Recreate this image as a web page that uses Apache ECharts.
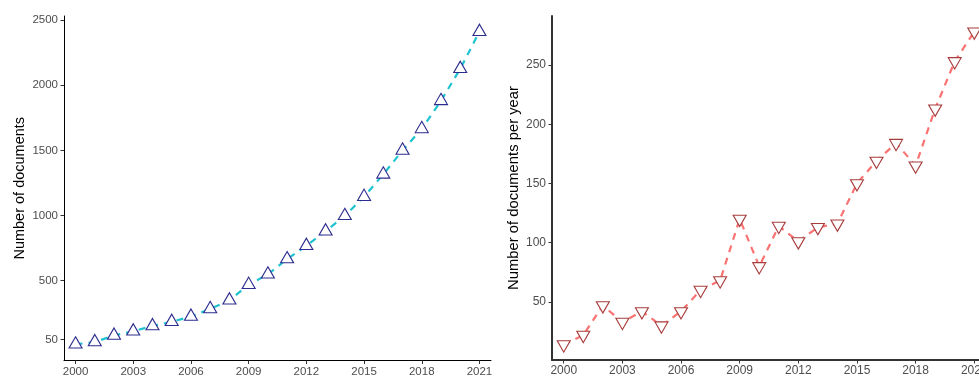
<!DOCTYPE html>
<html>
<head>
<meta charset="utf-8">
<script src="https://cdn.jsdelivr.net/npm/echarts@6/dist/echarts.min.js"></script>
<style>
  html, body { margin: 0; padding: 0; background: #fff; }
  #chart { width: 979px; height: 376px; }
</style>
</head>
<body>
<div id="chart"></div>
<script>
// Publication years
const years = [2000, 2001, 2002, 2003, 2004, 2005, 2006, 2007, 2008, 2009, 2010,
               2011, 2012, 2013, 2014, 2015, 2016, 2017, 2018, 2019, 2020, 2021];
// Cumulative number of documents
const cumulativeDocs = [12, 30, 80, 112, 153, 185, 226, 284, 350, 470, 549,
                        666, 768, 880, 998, 1145, 1316, 1500, 1665, 1880, 2126, 2410];
// Number of documents published each year
const docsPerYear = [14, 22, 47, 33, 42, 30, 42, 60, 68, 120, 80,
                     114, 101, 113, 116, 150, 169, 184, 165, 213, 253, 278];
// Tick labels
const yearTicks = [2000, 2003, 2006, 2009, 2012, 2015, 2018, 2021];
const cumulativeTicks = [50, 500, 1000, 1500, 2000, 2500];
const perYearTicks = [50, 100, 150, 200, 250];

const FONT = "'Liberation Sans', Arial, sans-serif";
const pairs = (vals) => years.map((y, i) => [y, vals[i]]);
const plain = (v) => String(Math.round(v));

function xAxisFor(gridIndex, lineColor, lineWidth, fontSize) {
  return {
    type: 'value', gridIndex: gridIndex,
    min: 1999.4, max: 2021.6,
    axisLine: { show: true, onZero: false, lineStyle: { color: lineColor, width: lineWidth } },
    axisTick: { show: true, length: 3.5, customValues: yearTicks,
                lineStyle: { color: '#333', width: 1 } },
    axisLabel: { customValues: yearTicks, formatter: plain, color: '#4d4d4d',
                 fontSize: fontSize, fontFamily: FONT, margin: 5 },
    splitLine: { show: false }
  };
}

function yAxisFor(gridIndex, min, max, ticks, title, gap, lineColor, lineWidth, fontSize, titleSize) {
  return {
    type: 'value', gridIndex: gridIndex, min: min, max: max,
    name: title, nameLocation: 'middle', nameGap: gap,
    nameTextStyle: { color: '#000', fontSize: titleSize, fontFamily: FONT },
    axisLine: { show: true, onZero: false, lineStyle: { color: lineColor, width: lineWidth } },
    axisTick: { show: true, length: 3.5, customValues: ticks,
                lineStyle: { color: '#333', width: 1 } },
    axisLabel: { customValues: ticks, formatter: plain, color: '#4d4d4d',
                 fontSize: fontSize, fontFamily: FONT, margin: 6 },
    splitLine: { show: false }
  };
}

// Triangle size; offset puts the triangle's centroid on the data point
const TRI = [13, 11.3];
const CENTROID_SHIFT = TRI[1] / 6;

const option = {
  animation: false,
  backgroundColor: '#fff',
  grid: [
    { left: 64, top: 16, width: 427, height: 344.5, outerBoundsMode: 'none', containLabel: false },
    { left: 552, top: 16, width: 434, height: 344, outerBoundsMode: 'none', containLabel: false }
  ],
  xAxis: [
    xAxisFor(0, '#000', 1, 11.5),
    xAxisFor(1, '#333', 2, 12)
  ],
  yAxis: [
    yAxisFor(0, -112, 2531, cumulativeTicks, 'Number of documents', 37, '#000', 1, 11.5, 14.5),
    yAxisFor(1, 1, 291.3, perYearTicks, 'Number of documents per year', 31, '#333', 2, 12, 14.8)
  ],
  series: [
    {
      type: 'line', xAxisIndex: 0, yAxisIndex: 0,
      data: pairs(cumulativeDocs),
      showAllSymbol: true,
      symbol: 'triangle', symbolSize: TRI, symbolOffset: [0, -CENTROID_SHIFT],
      lineStyle: { color: '#1fc3cf', width: 2.2, type: [7, 6] },
      itemStyle: { color: '#fff', borderColor: '#2d2d8f', borderWidth: 1.1 },
      z: 3
    },
    {
      type: 'line', xAxisIndex: 1, yAxisIndex: 1,
      data: pairs(docsPerYear),
      showAllSymbol: true,
      symbol: 'triangle', symbolSize: TRI, symbolRotate: 180,
      symbolOffset: [0, CENTROID_SHIFT],
      lineStyle: { color: '#fa7272', width: 2.2, type: [7, 6] },
      itemStyle: { color: '#fff', borderColor: '#a83c3c', borderWidth: 1.1 },
      z: 3
    }
  ]
};

const chart = echarts.init(document.getElementById('chart'), null, { renderer: 'canvas' });
chart.setOption(option);
</script>
</body>
</html>
